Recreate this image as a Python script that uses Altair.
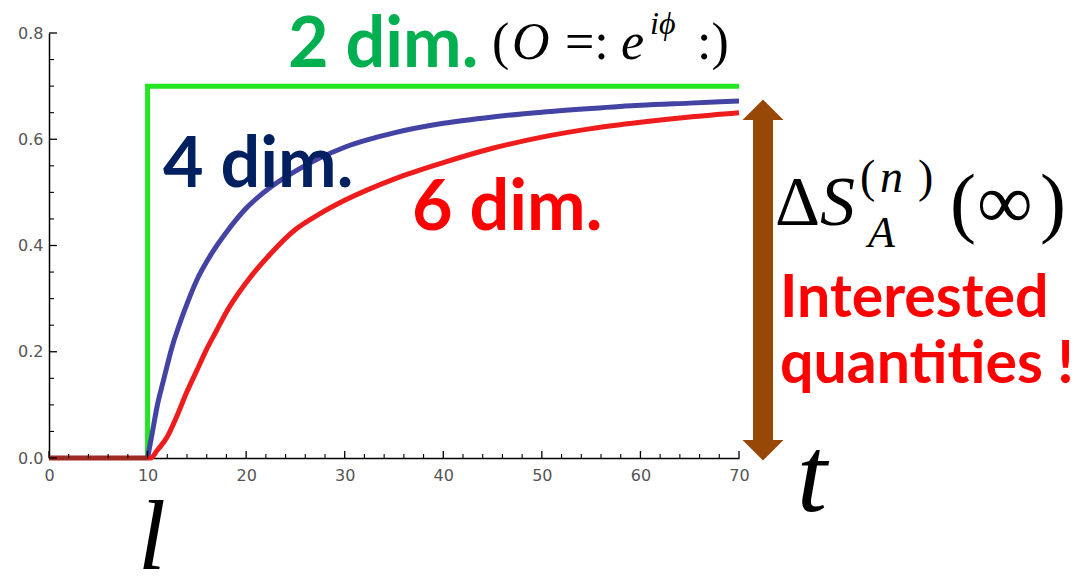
import altair as alt
import pandas as pd

# ---------------- data ----------------
X_MAJOR = [0, 10, 20, 30, 40, 50, 60, 70]
X_MINOR = [2, 4, 6, 8, 12, 14, 16, 18, 22, 24, 26, 28, 32, 34, 36, 38,
           42, 44, 46, 48, 52, 54, 56, 58, 62, 64, 66, 68]
Y_MAJOR = [0.0, 0.2, 0.4, 0.6, 0.8]
Y_MINOR = [0.05, 0.1, 0.15, 0.25, 0.3, 0.35, 0.45, 0.5, 0.55, 0.65, 0.7, 0.75]

PRE_X = [0, 10]
PRE_Y = [0.0, 0.0]

DIM2_X = [10, 10, 70]
DIM2_Y = [0.0, 0.7, 0.7]

DIM4_X = [10, 10.5, 11, 11.6, 12.5, 13.3, 14, 15, 16.5, 18, 20, 22.5, 25,
          27.5, 30, 35, 40, 45, 50, 55, 60, 65, 70]
DIM4_Y = [0.0, 0.05, 0.1, 0.145, 0.21, 0.255, 0.29, 0.335, 0.385, 0.425,
          0.47, 0.51, 0.54, 0.565, 0.585, 0.612, 0.63, 0.642, 0.651, 0.658,
          0.664, 0.668, 0.672]

DIM6_X = [10, 10.3, 11, 12, 13, 14, 15, 16, 17, 18, 20, 22.5, 25, 27.5, 30,
          35, 40, 45, 50, 55, 60, 65, 70]
DIM6_Y = [0.0, 0.0, 0.015, 0.04, 0.08, 0.125, 0.165, 0.205, 0.24, 0.275,
          0.33, 0.385, 0.43, 0.46, 0.485, 0.525, 0.556, 0.583, 0.604, 0.62,
          0.632, 0.642, 0.65]

SERIES = ["dim2", "dim4", "dim6", "pre"]
COLORS = ["#22e622", "#4343a3", "#ee1c1c", "#9e2a22"]

# ---------------- layout ----------------
W, H = 690, 425
OX, OY = 49, 33          # page position of the plot origin
BROWN = "#974806"


def px(x):
    return x - OX


def py(y):
    return y - OY


rows = []
for name, xs, ys in [("dim2", DIM2_X, DIM2_Y), ("dim4", DIM4_X, DIM4_Y),
                     ("dim6", DIM6_X, DIM6_Y), ("pre", PRE_X, PRE_Y)]:
    for i, (xv, yv) in enumerate(zip(xs, ys)):
        rows.append({"x": xv, "y": yv, "series": name, "idx": i})
lines_df = pd.DataFrame(rows)

xscale = alt.Scale(domain=[0, 70], nice=False, zero=False)
yscale = alt.Scale(domain=[0, 0.8], nice=False)
xaxis = alt.Axis(values=X_MAJOR, title=None, labelPadding=9, ticks=False,
                 grid=False, domainColor="black", domainWidth=1.5,
                 labelFont="DejaVu Sans", labelFontSize=16, labelColor="#555",
                 labelFlush=False)
yaxis = alt.Axis(values=Y_MAJOR, format=".1f", title=None, labelPadding=6,
                 ticks=False, grid=False, domainColor="black", domainWidth=1.5,
                 labelFont="DejaVu Sans", labelFontSize=16, labelColor="#555",
                 labelFlush=False)

lines = alt.Chart(lines_df).mark_line(
    strokeWidth=5, strokeJoin="miter", strokeCap="butt", interpolate="monotone"
).encode(
    x=alt.X("x:Q", scale=xscale, axis=xaxis),
    y=alt.Y("y:Q", scale=yscale, axis=yaxis),
    color=alt.Color("series:N", scale=alt.Scale(domain=SERIES, range=COLORS),
                    legend=None),
    order=alt.Order("idx:Q"),
    detail="series:N",
)

# inward ticks (Mathematica style); their own axes are switched off
xmaj = alt.Chart(pd.DataFrame({"x": X_MAJOR})).mark_rule(color="black", strokeWidth=1.3).encode(
    x=alt.X("x:Q", scale=xscale, axis=None), y=alt.value(H), y2=alt.value(H - 7))
xmin = alt.Chart(pd.DataFrame({"x": X_MINOR})).mark_rule(color="black", strokeWidth=1.1).encode(
    x=alt.X("x:Q", scale=xscale, axis=None), y=alt.value(H), y2=alt.value(H - 4))
ymaj = alt.Chart(pd.DataFrame({"y": Y_MAJOR})).mark_rule(color="black", strokeWidth=1.3).encode(
    y=alt.Y("y:Q", scale=yscale, axis=None), x=alt.value(0), x2=alt.value(8))
ymin = alt.Chart(pd.DataFrame({"y": Y_MINOR})).mark_rule(color="black", strokeWidth=1.1).encode(
    y=alt.Y("y:Q", scale=yscale, axis=None), x=alt.value(0), x2=alt.value(5))

# arrow
one = pd.DataFrame({"a": [0]})
shaft = alt.Chart(one).mark_rule(color=BROWN, strokeWidth=20, strokeCap="butt").encode(
    x=alt.value(px(763)), y=alt.value(py(119)), y2=alt.value(py(441)))
head_up = alt.Chart(one).mark_point(shape="M -1 0 L 1 0 L 0 -1 Z", size=1681, filled=True,
                                    color=BROWN, opacity=1, strokeWidth=0).encode(
    x=alt.value(px(763)), y=alt.value(py(120)))
head_dn = alt.Chart(one).mark_point(shape="M -1 0 L 1 0 L 0 1 Z", size=1681, filled=True,
                                    color=BROWN, opacity=1, strokeWidth=0).encode(
    x=alt.value(px(763)), y=alt.value(py(440)))

# annotations: (text, page x, page baseline, font, size, weight, style, color)
SANS = "Lato"
SERIF = "Liberation Serif"
TEXTS = [
    ("2 dim.", 288, 67, SANS, 70, "bold", "normal", "#00b050"),
    ("4 dim.", 163, 187, SANS, 70, "bold", "normal", "#002060"),
    ("6 dim.", 412, 230, SANS, 70, "bold", "normal", "#ff0000"),
    ("(", 492, 59, SERIF, 52, "normal", "normal", "black"),
    ("O", 512, 59, SERIF, 52, "normal", "italic", "black"),
    ("=:", 565, 59, SERIF, 52, "normal", "normal", "black"),
    ("e", 621, 59, SERIF, 52, "normal", "italic", "black"),
    ("iϕ", 650, 34, SERIF, 32, "normal", "italic", "black"),
    (":)", 697, 59, SERIF, 52, "normal", "normal", "black"),
    ("Δ", 775, 225, SERIF, 70, "normal", "normal", "black"),
    ("S", 820, 225, SERIF, 70, "normal", "italic", "black"),
    ("(", 860, 192, SERIF, 46, "normal", "normal", "black"),
    ("n", 880, 192, SERIF, 46, "normal", "italic", "black"),
    (")", 918, 192, SERIF, 46, "normal", "normal", "black"),
    ("A", 868, 247, SERIF, 44, "normal", "italic", "black"),
    ("(", 950, 228, SERIF, 78, "normal", "normal", "black"),
    ("∞", 977, 228, SERIF, 78, "normal", "normal", "black"),
    (")", 1040, 228, SERIF, 78, "normal", "normal", "black"),
    ("Interested", 780, 317, SANS, 59, "bold", "normal", "#ff0000"),
    ("quantities !", 780, 383, SANS, 59, "bold", "normal", "#ff0000"),
    ("l", 138, 569, SERIF, 100, "normal", "italic", "black"),
    ("t", 797, 511, SERIF, 108, "normal", "italic", "black"),
]

text_layers = []
for (t, x, y, font, size, weight, style, color) in TEXTS:
    text_layers.append(
        alt.Chart(pd.DataFrame({"t": [t]})).mark_text(
            align="left", baseline="alphabetic", font=font, fontSize=size,
            fontWeight=weight, fontStyle=style, color=color
        ).encode(x=alt.value(px(x)), y=alt.value(py(y)), text="t:N")
    )

chart = alt.layer(
    lines, shaft, head_up, head_dn, *text_layers, xmin, xmaj, ymin, ymaj
).resolve_axis(
    x="independent", y="independent"
).properties(
    width=W, height=H,
    autosize=alt.AutoSizeParams(type="none"),
    padding={"left": OX - 8, "top": OY - 8, "right": 336, "bottom": 114},
).configure_view(stroke=None)

chart.save("out.html", embed_options={"renderer": "svg", "actions": False})
